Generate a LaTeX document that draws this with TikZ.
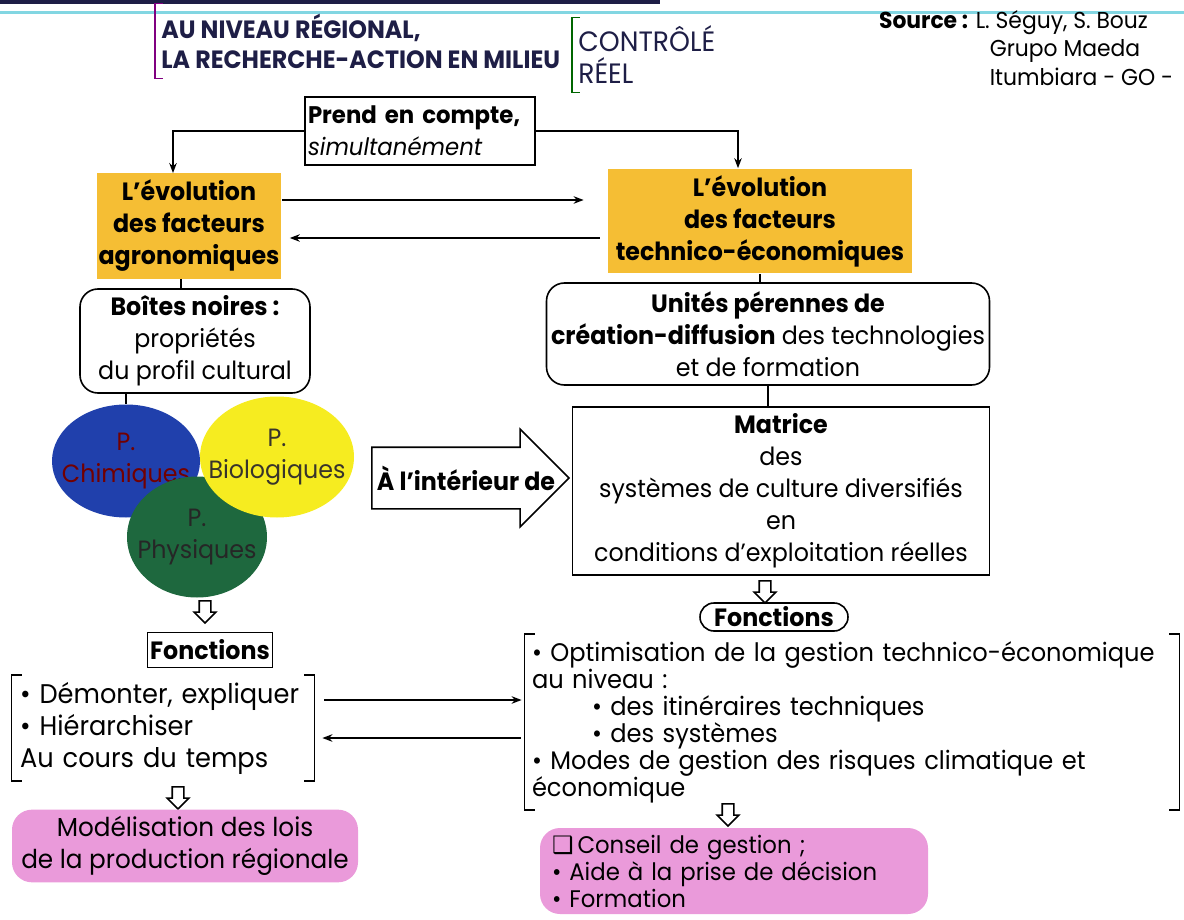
\documentclass[tikz,border=0pt]{standalone}
\usepackage{fontspec}
\setmainfont{Poppins}[FakeStretch=0.95]
\newfontfamily\symbfont{DejaVu Sans}
\usetikzlibrary{shapes.geometric, shapes.arrows, arrows.meta, positioning}
\definecolor{ocrecolor}{RGB}{245,190,52}
\definecolor{pinkcolor}{RGB}{234,154,218}
\definecolor{chimcolor}{RGB}{32,64,172}
\definecolor{biocolor}{RGB}{246,236,32}
\definecolor{physcolor}{RGB}{30,104,62}
\definecolor{titlecolor}{RGB}{30,30,70}
\definecolor{rulecolor}{RGB}{130,214,226}
\newcommand{\diagfont}{\fontsize{12.5}{16}\selectfont}
\newcommand{\listfont}{\fontsize{13.5}{16}\selectfont}

\begin{document}
\begin{tikzpicture}[
    x=0.5pt, y=-0.5pt,
    ybox/.style={fill=ocrecolor, font=\diagfont\bfseries, align=center},
    rbox/.style={draw, thick, rounded corners=9pt, font=\diagfont, align=center},
    sqbox/.style={draw, thick, font=\diagfont, align=center},
    circ/.style={ellipse, inner sep=0pt},
    circtext/.style={font=\diagfont, align=center},
    pinkbox/.style={fill=pinkcolor, rounded corners=10pt, font=\listfont},
    link/.style={-{Stealth[length=5pt]}, thick},
    harrow/.style={single arrow, draw, thick, shape border rotate=270, minimum height=11pt, single arrow head extend=2.5pt, inner sep=2.5pt}
]
    \useasboundingbox (0,0) rectangle (1184,920);

    % Header
    \fill[titlecolor] (0,0) rectangle (660,4);
    \draw[rulecolor, line width=1.5pt] (0,13) -- (1184,13);
    \node[anchor=west, align=left, font=\fontsize{12.5}{15}\selectfont\bfseries, text=titlecolor, inner xsep=3pt, inner ysep=5pt] (title) at (155,41) {AU NIVEAU RÉGIONAL,\\LA RECHERCHE-ACTION EN MILIEU};
    \draw[thick, violet] ([xshift=4pt]title.north west) -- (title.north west) -- (title.south west) -- ([xshift=4pt]title.south west);
    \node[anchor=west, align=left, font=\fontsize{14}{16}\selectfont, text=titlecolor, inner xsep=3pt, inner ysep=4pt] (milieu) at (572,55) {CONTRÔLÉ\\RÉEL};
    \draw[thick, green!40!black] ([xshift=4pt]milieu.north west) -- (milieu.north west) -- (milieu.south west) -- ([xshift=4pt]milieu.south west);
    \node[anchor=north west, align=left, font=\fontsize{11.5}{14.25}\selectfont] (source) at (872,3) {\textbf{Source :} L. Séguy, S. Bouz\\\hphantom{\textbf{Source :} }\hspace*{7pt}Grupo Maeda\\\hphantom{\textbf{Source :} }\hspace*{7pt}Itumbiara - GO -};

    % Boxes
    \node[sqbox, align=left, font=\fontsize{12}{16}\selectfont, text width=112pt, minimum height=34pt, inner xsep=1.5pt] (prend) at (420,131) {\textbf{Prend en compte,}\\\textit{simultanément}};
    \node[ybox, minimum width=89pt, minimum height=48.5pt, inner xsep=1pt] (agro) at (189,226) {L’évolution\\des facteurs\\agronomiques};
    \node[ybox, minimum width=152pt, minimum height=51pt] (teco) at (760,221) {L’évolution\\des facteurs\\technico-économiques};
    \node[rbox, minimum width=115pt, minimum height=52pt, inner xsep=2pt] (boites) at (195,341) {\textbf{Boîtes noires :}\\propriétés\\du profil cultural};
    \node[rbox, minimum width=221.5pt, minimum height=51pt, inner xsep=2pt] (unites) at (768,334) {\textbf{Unités pérennes de}\\\textbf{création-diffusion} des technologies\\et de formation};
    \node[sqbox, minimum width=208.5pt, minimum height=83.5pt] (matrice) at (781,491) {\textbf{Matrice}\\des\\systèmes de culture diversifiés\\en\\conditions d’exploitation réelles};

    % Profile circles
    \node[circ, fill=chimcolor, minimum width=74pt, minimum height=56.5pt,
          label={[circtext, text=red!45!black]center:P.\\Chimiques}] (chim) at (126,461) {};
    \node[circ, fill=physcolor, minimum width=70pt, minimum height=60.5pt,
          label={[circtext, text=black!85]center:P.\\Physiques}] (phys) at (197,537) {};
    \node[circ, fill=biocolor, minimum width=77pt, minimum height=60.5pt,
          label={[circtext, text=black!80!olive]center:P.\\Biologiques}] (bio) at (277,457) {};

    % Big arrow
    \node[single arrow, draw, thick, minimum height=98.5pt, single arrow head extend=9pt, inner xsep=0pt, inner ysep=15pt] (inside) at (455,478) {};
    \node[font=\diagfont\bfseries] (insidetxt) at (466,478) {À l’intérieur de};

    % Functions
    \node[harrow] (down1) at (205,609) {};
    \node[harrow] (down2) at (765,589) {};
    \node[sqbox, font=\diagfont\bfseries, minimum width=62.5pt, minimum height=17.5pt, inner sep=1pt] (fonctL) at (210,650) {Fonctions};
    \node[rbox, rounded corners=7pt, font=\diagfont\bfseries, minimum width=74pt, minimum height=14pt, inner sep=1pt] (fonctR) at (774,617) {Fonctions};
    \node[font=\listfont, align=left, text width=143pt, inner xsep=4pt, minimum height=48pt] (listL) at (163,728) {• Démonter, expliquer\\• Hiérarchiser\\Au cours du temps};
    \node[font=\fontsize{12.7}{13.5}\selectfont, align=left, text width=320pt, inner xsep=3.5pt, minimum height=81pt] (listR) at (852,722) {• Optimisation de la gestion technico-économique\\au niveau :\\\hspace*{30pt}• des itinéraires techniques\\\hspace*{30pt}• des systèmes\\• Modes de gestion des risques climatique et\\économique};
    \draw[thick] ([xshift=5pt]listL.north west) -- (listL.north west) -- (listL.south west) -- ([xshift=5pt]listL.south west);
    \draw[thick] ([xshift=-5pt]listL.north east) -- (listL.north east) -- (listL.south east) -- ([xshift=-5pt]listL.south east);
    \draw[thick] ([xshift=5pt]listR.north west) -- (listR.north west) -- (listR.south west) -- ([xshift=5pt]listR.south west);
    \draw[thick] ([xshift=-5pt]listR.north east) -- (listR.north east) -- (listR.south east) -- ([xshift=-5pt]listR.south east);
    \node[harrow] (down3) at (178,795) {};
    \node[harrow] (down4) at (728,812) {};
    \node[pinkbox, align=center, minimum width=173pt, minimum height=34pt, font=\fontsize{13}{16}\selectfont] (pinkL) at (185,846) {Modélisation des lois\\de la production régionale};
    \node[pinkbox, align=left, text width=182pt, inner xsep=6pt, minimum height=43pt, font=\fontsize{12}{13.5}\selectfont] (pinkR) at (734,871) {{\symbfont ❑}\,Conseil de gestion ;\\• Aide à la prise de décision\\• Formation};

    % Connections
    \draw[link] (prend.west) -| ([xshift=-8pt]agro.north);
    \draw[link] (prend.east) -| ([xshift=-11pt]teco.north);
    \draw[link, shorten >=12pt] ([yshift=13pt]agro.east) -- ([yshift=13pt]agro.east -| teco.west);
    \draw[link, shorten <=4pt, shorten >=4pt] ([yshift=-6pt]agro.east -| teco.west) -- ([yshift=-6pt]agro.east);
    \draw[thick] ([xshift=-4pt]agro.south) -- ([xshift=-4pt]agro.south |- boites.north);
    \draw[thick] (chim.north |- boites.south) -- (chim.north);
    \draw[thick] (teco.south) -- (teco.south |- unites.north);
    \draw[thick] (unites.south) -- (unites.south |- matrice.north);
    \draw[link, shorten <=5pt, shorten >=1.5pt] ([yshift=14pt]listL.east) -- ([yshift=14pt]listL.east -| listR.west);
    \draw[link, shorten <=2pt, shorten >=4pt] ([yshift=-5pt]listL.east -| listR.west) -- ([yshift=-5pt]listL.east);
\end{tikzpicture}
\end{document}
